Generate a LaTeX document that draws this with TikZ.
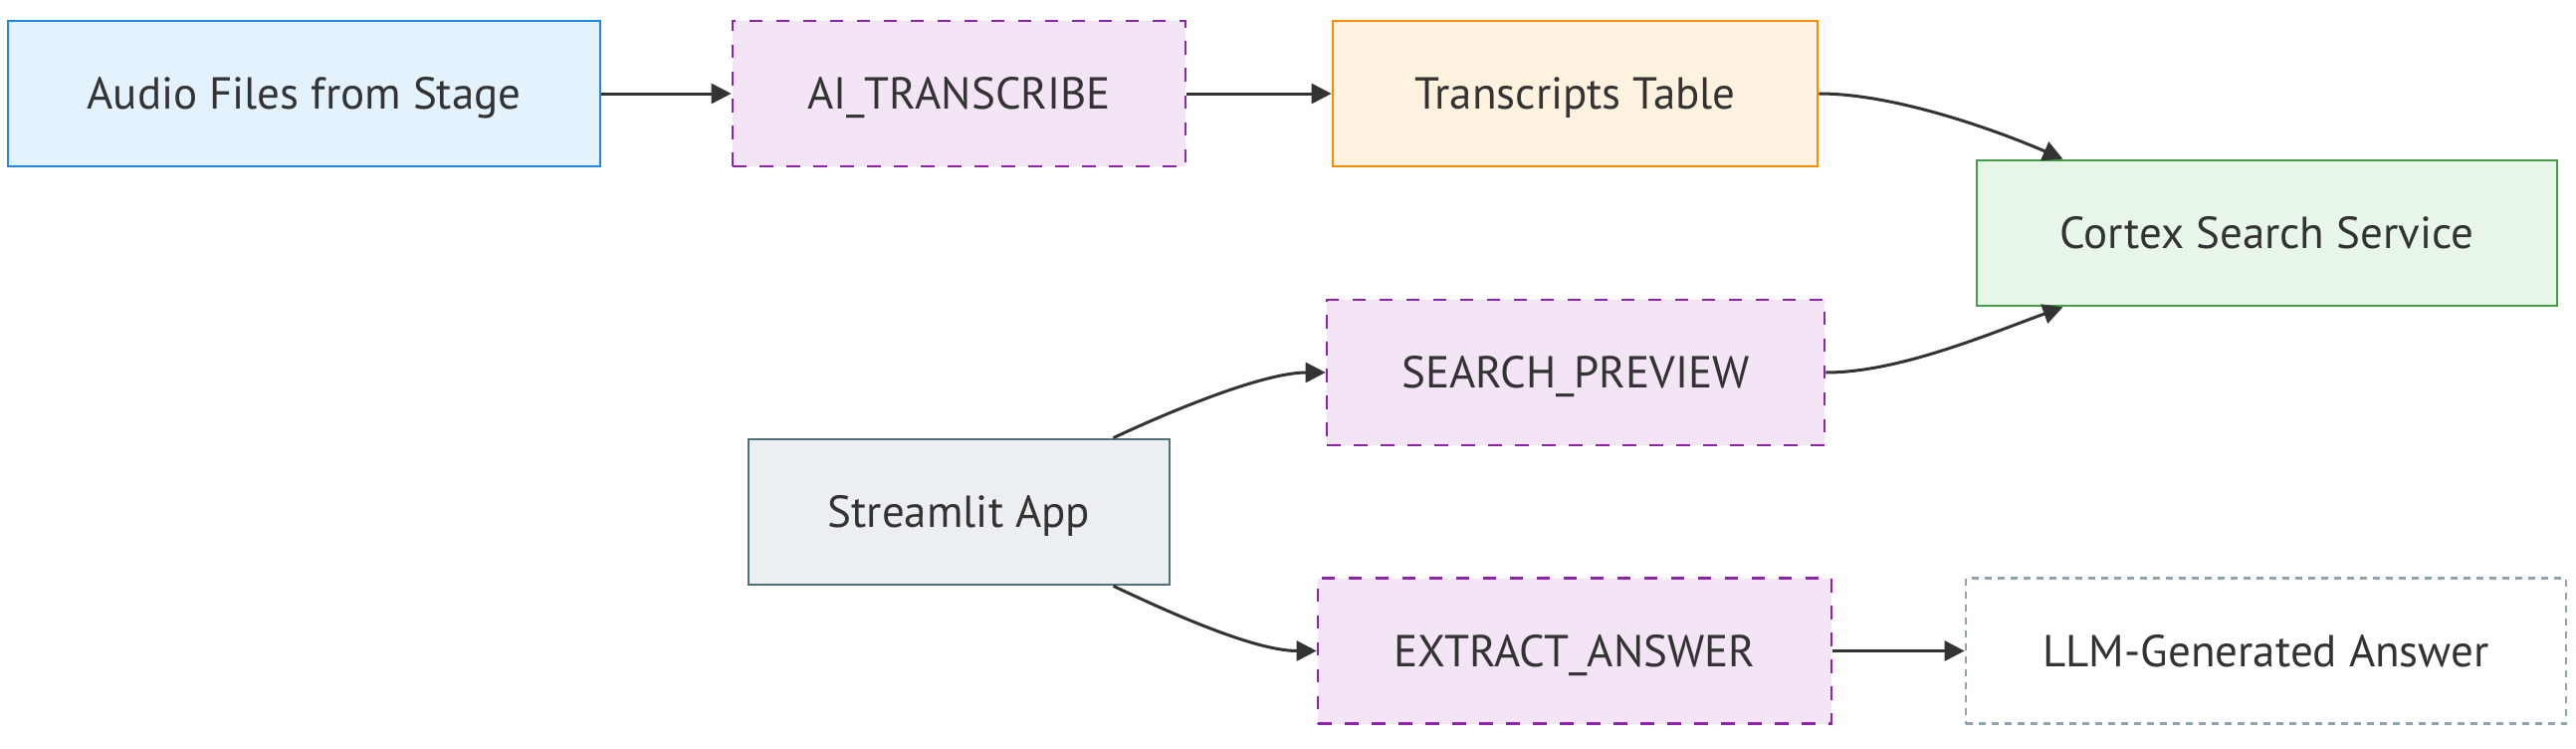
\documentclass[tikz,border=0pt]{standalone}
\usepackage{fontspec}
\setmainfont{PT Sans}
\usetikzlibrary{arrows.meta}
\definecolor{txt}{HTML}{333333}
\definecolor{edge}{HTML}{333333}
\definecolor{bluefill}{HTML}{E3F2FD}\definecolor{bluedraw}{HTML}{1E88E5}
\definecolor{purfill}{HTML}{F3E5F5}\definecolor{purdraw}{HTML}{8E24AA}
\definecolor{orfill}{HTML}{FFF3E0}\definecolor{ordraw}{HTML}{FB8C00}
\definecolor{grfill}{HTML}{E8F5E9}\definecolor{grdraw}{HTML}{43A047}
\definecolor{slfill}{HTML}{ECEFF1}\definecolor{sldraw}{HTML}{546E7A}
\definecolor{lldraw}{HTML}{90A4AE}
\tikzset{
  box/.style={rectangle, inner sep=0pt, minimum height=146pt, line width=2.7pt,
    text=txt, font=\fontsize{45}{50}\selectfont, text height=31pt, text depth=0pt},
  srcbox/.style={box, fill=bluefill, draw=bluedraw},
  fnbox/.style={box, fill=purfill, draw=purdraw, dash pattern=on 13.5pt off 13.5pt},
  tblbox/.style={box, fill=orfill, draw=ordraw},
  svcbox/.style={box, fill=grfill, draw=grdraw},
  appbox/.style={box, fill=slfill, draw=sldraw},
  outbox/.style={box, fill=white, draw=lldraw, dash pattern=on 7pt off 6pt},
  conn/.style={draw=edge, line width=3pt, -{Triangle[length=20pt,width=20pt]}},
}
\begin{document}
\begin{tikzpicture}[x=1pt,y=-1pt]
\useasboundingbox (0,0) rectangle (2588,752);
\node[srcbox, minimum width=595pt] (audio) at (305.5,94) {Audio Files from Stage};
\node[fnbox, minimum width=455pt] (ai) at (963.5,94) {AI\_TRANSCRIBE};
\node[tblbox, minimum width=487pt] (trans) at (1582.5,94) {Transcripts Table};
\node[svcbox, minimum width=583pt] (cortex) at (2277.5,234) {Cortex Search Service};
\node[fnbox, minimum width=500pt] (search) at (1583,374) {SEARCH\_PREVIEW};
\node[appbox, minimum width=423pt] (stream) at (963.5,514) {Streamlit App};
\node[fnbox, minimum width=516pt] (extract) at (1582,653.5) {EXTRACT\_ANSWER};
\node[outbox, minimum width=603pt] (llm) at (2276.5,653.5) {LLM-Generated Answer};

\draw[conn] (audio.east) -- (ai.west);
\draw[conn] (ai.east) -- (trans.west);
\draw[conn] (trans.east) .. controls +(74,0) and +(-72,-31) .. ([xshift=-205pt]cortex.north);
\draw[conn] (search.east) .. controls +(74,0) and +(-72,26) .. ([xshift=-205pt]cortex.south);
\draw[conn] ([xshift=155pt]stream.north) .. controls +(51,-24) and +(-64,0) .. (search.west);
\draw[conn] ([xshift=155pt]stream.south) .. controls +(51,24) and +(-64,0) .. (extract.west);
\draw[conn] (extract.east) -- (llm.west);
\end{tikzpicture}
\end{document}
